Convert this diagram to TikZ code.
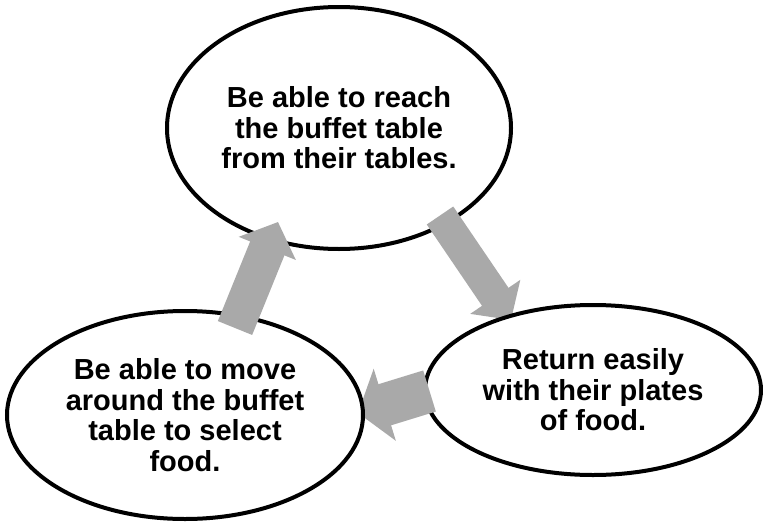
\documentclass[tikz,border=0pt]{standalone}
\usepackage{fontspec}
\setmainfont{Liberation Sans}
\usetikzlibrary{shapes.geometric,arrows.meta}
\definecolor{arrowgray}{RGB}{169,169,169}
\tikzset{
  bubble/.style={ellipse, draw=black, line width=4pt, fill=white, inner sep=0pt,
    align=center, font=\bfseries\fontsize{29}{30.5}\selectfont},
  fatarrow/.style={draw=arrowgray, line cap=butt}
}
\begin{document}
\begin{tikzpicture}[x=1pt,y=-1pt]
\useasboundingbox (0,0) rectangle (763,525);
% top ellipse
\node[bubble, minimum width=344pt, minimum height=242pt] (top) at (339,128)
  {Be able to reach\\the buffet table\\from their tables.};
% arrow 2 (top -> right)
\coordinate (a2s) at (440,215.5);
\coordinate (a2e) at (511,320);
\draw[fatarrow, line width=32pt, -{Triangle[length=28pt,width=59pt]}] (a2s) -- (a2e);
% right ellipse
\node[bubble, minimum width=336pt, minimum height=170pt] (right) at (593,390)
  {Return easily\\with their plates\\of food.};
% arrow 3 (right -> left)
\coordinate (a3s) at (429.5,391);
\coordinate (a3e) at (358,413);
\draw[fatarrow, line width=43pt, -{Triangle[length=28pt,width=74pt]}] (a3s) -- (a3e);
% left ellipse
\node[bubble, minimum width=356pt, minimum height=208pt] (left) at (185,415)
  {Be able to move\\around the buffet\\table to select\\food.};
% arrow 1 (left -> top)
\coordinate (a1s) at (235,328);
\coordinate (a1e) at (278,222);
\draw[fatarrow, line width=37pt, -{Triangle[length=28.5pt,width=60pt]}] (a1s) -- (a1e);
\end{tikzpicture}
\end{document}
